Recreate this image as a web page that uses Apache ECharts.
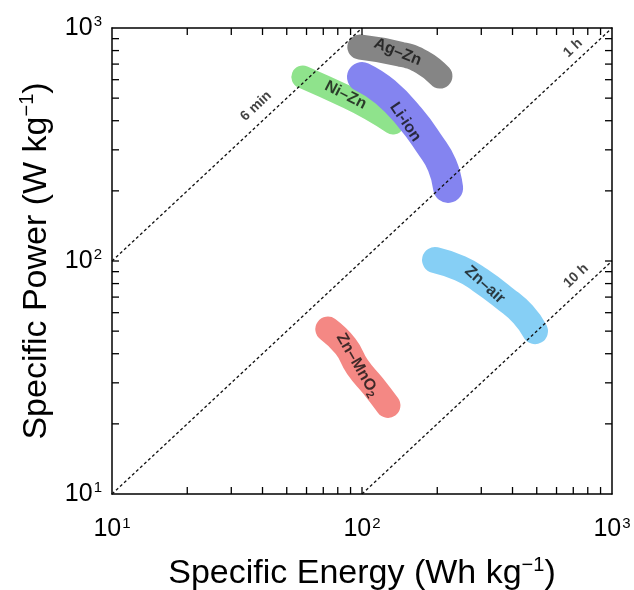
<!DOCTYPE html>
<html><head><meta charset="utf-8">
<script src="https://cdn.jsdelivr.net/npm/echarts@6/dist/echarts.min.js"></script>
<style>html,body{margin:0;padding:0;background:#fff}#c{width:634px;height:590px}</style>
</head><body><div id="c"></div>
<script>
// Specific Energy (Wh/kg), Specific Power (W/kg) centre-lines of each region
const agZn   = [[98,829],[142,773],[174,714],[205,622]];
const niZn   = [[58,616],[87,506],[108,449],[133,391]];
const liIon  = [[100,616],[124,531],[156,411],[187,315],[209,258],[221,206]];
const znAir  = [[196,101],[247,93],[296,83],[373,69],[441,59],[492,50]];
const znMnO2 = [[73,51],[86,43],[96,35],[111,29],[127,24]];
// discharge-time guide lines
const line6min = [[10,100],[100,1000]];
const line1h   = [[10,10],[1000,1000]];
const line10h  = [[100,10],[1000,100]];
// tick values
const majorTicks = [10,100,1000];
const minorTicks = [20,30,40,50,60,70,80,90,200,300,400,500,600,700,800,900];

const FONT = 'Liberation Sans, Arial, sans-serif';
const bands = [
  {name:'{t|Ni–Zn}', data:niZn, color:'#8fe38c', width:23, label:[86,515], rot:-27},
  {name:'{t|Ag–Zn}', data:agZn, color:'#858585', width:25, label:[139,789], rot:-22},
  {name:'{t|Li-ion}', data:liIon, color:'#8484f0', width:30, label:[149,395], rot:-56},
  {name:'{t|Zn–air}', data:znAir, color:'#86cff5', width:26, label:[310,79], rot:-42},
  {name:'{t|Zn–MnO}{s|2}', data:znMnO2, color:'#f48884', width:25, label:[96,35.8], rot:-60}
];
const guides = [
  {name:'{g|6 min}', data:line6min, label:[37.7,462]},
  {name:'{g|1 h}', data:line1h, label:[698,820]},
  {name:'{g|10 h}', data:line10h, label:[718,86.3]}
];

const labelRich = {
  t:{fontSize:16, fontWeight:'bold', color:'#111', fontFamily:FONT},
  g:{fontSize:14, fontWeight:'bold', color:'#111', fontFamily:FONT},
  s:{fontSize:11, fontWeight:'bold', color:'#111', fontFamily:FONT, padding:[9,0,0,0]}
};

const series = [];
bands.forEach(b => series.push({
  type:'line', data:b.data, smooth:0.5, showSymbol:false, symbol:'none',
  lineStyle:{color:b.color, width:b.width, cap:'round', join:'round'}, z:2, silent:true
}));
guides.forEach(g => series.push({
  type:'line', data:g.data, showSymbol:false, symbol:'none',
  lineStyle:{color:'#111', width:1.3, type:[3,2.5]}, z:3, silent:true
}));
series.push({
  type:'scatter', symbolSize:0, z:5, silent:true,
  data: bands.map(b => ({value:b.label, label:{show:true, formatter:b.name, rotate:b.rot, rich:labelRich}}))
    .concat(guides.map(g => ({value:g.label, label:{show:true, formatter:g.name, rotate:43, rich:labelRich}}))),
  label:{show:true, position:'inside', color:'#000', fontFamily:FONT, rich:labelRich}
});
// ticks drawn inward on all four sides
const tickData = majorTicks.slice(1,2).concat(minorTicks);
series.push({
  type:'custom', z:6, silent:true, clip:false,
  data: tickData.map(v => [v]),
  renderItem:(params, api) => {
    const v = api.value(0), L = 7;
    const b = api.coord([v,10]), t = api.coord([v,1000]);
    const l = api.coord([10,v]), r = api.coord([1000,v]);
    const st = {stroke:'#000', lineWidth:1.3};
    return {type:'group', children:[
      {type:'line', shape:{x1:b[0],y1:b[1],x2:b[0],y2:b[1]-L}, style:st},
      {type:'line', shape:{x1:t[0],y1:t[1],x2:t[0],y2:t[1]+L}, style:st},
      {type:'line', shape:{x1:l[0],y1:l[1],x2:l[0]+L,y2:l[1]}, style:st},
      {type:'line', shape:{x1:r[0],y1:r[1],x2:r[0]-L,y2:r[1]}, style:st}
    ]};
  }
});

const supFmt = v => '{b|10}{e|' + Math.round(Math.log10(v)) + '}';
const tickRich = {
  b:{fontSize:25, color:'#000', fontFamily:FONT},
  e:{fontSize:15, color:'#000', fontFamily:FONT, verticalAlign:'top', padding:[0,0,12,1]}
};
const nameRich = {
  n:{fontSize:34, color:'#000', fontFamily:FONT},
  u:{fontSize:20, color:'#000', fontFamily:FONT, padding:[0,0,18,0]}
};
const axLine = {show:true, lineStyle:{color:'#000', width:1.5}};

const chart = echarts.init(document.getElementById('c'), null, {renderer:'canvas'});
chart.setOption({
  animation:false,
  backgroundColor:'#fff',
  grid:{left:112, top:28, right:22, bottom:96, containLabel:false, outerBoundsMode:'none'},
  xAxis:[
    {type:'log', logBase:10, min:10, max:1000, position:'bottom',
     axisLine:axLine, axisTick:{show:false}, splitLine:{show:false},
     axisLabel:{formatter:supFmt, rich:tickRich, margin:22},
     name:'{n|Specific Energy (Wh kg}{u|−1}{n|)}', nameLocation:'middle', nameGap:61,
     nameTextStyle:{rich:nameRich}},
    {type:'log', logBase:10, min:10, max:1000, position:'top',
     axisLine:axLine, axisTick:{show:false}, splitLine:{show:false}, axisLabel:{show:false}}
  ],
  yAxis:[
    {type:'log', logBase:10, min:10, max:1000, position:'left',
     axisLine:axLine, axisTick:{show:false}, splitLine:{show:false},
     axisLabel:{formatter:supFmt, rich:tickRich, margin:10},
     name:'{n|Specific Power (W kg}{u|−1}{n|)}', nameLocation:'middle', nameGap:56,
     nameRotate:90, nameTextStyle:{rich:nameRich}},
    {type:'log', logBase:10, min:10, max:1000, position:'right',
     axisLine:axLine, axisTick:{show:false}, splitLine:{show:false}, axisLabel:{show:false}}
  ],
  series: series
});
</script></body></html>
